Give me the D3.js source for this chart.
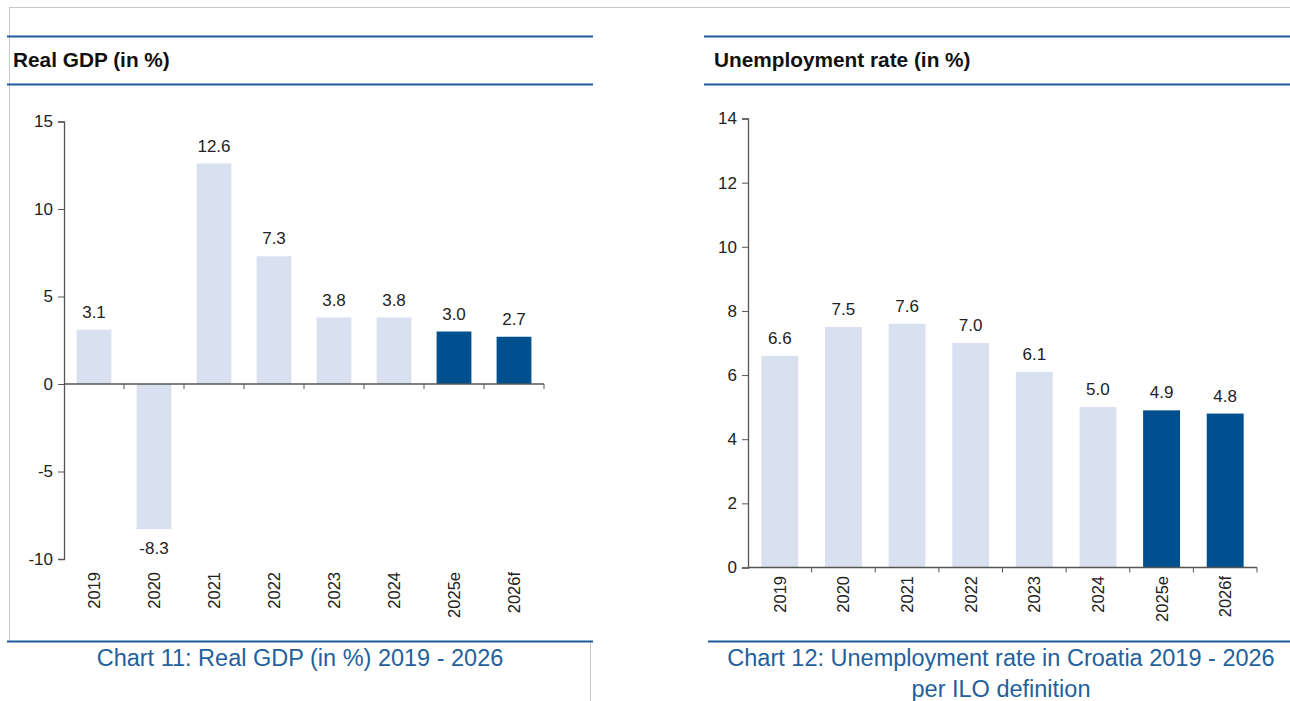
<!DOCTYPE html>
<html>
<head>
<meta charset="utf-8">
<script src="https://cdn.jsdelivr.net/npm/d3@7"></script>
<style>
  html, body { margin: 0; padding: 0; background: #fff; }
  svg { display: block; font-family: "Liberation Sans", Arial, sans-serif; }
</style>
</head>
<body>
<svg id="page" width="1290" height="701"></svg>
<script>
// Years shown on both charts
const years = ["2019", "2020", "2021", "2022", "2023", "2024", "2025e", "2026f"];
// Real GDP growth, %
const gdpValues = [3.1, -8.3, 12.6, 7.3, 3.8, 3.8, 3.0, 2.7];
const gdpTicks = [-10, -5, 0, 5, 10, 15];
// Unemployment rate (ILO), %
const unempValues = [6.6, 7.5, 7.6, 7.0, 6.1, 5.0, 4.9, 4.8];
const unempTicks = [0, 2, 4, 6, 8, 10, 12, 14];
// Estimate / forecast years are drawn in the darker colour
const forecastYears = ["2025e", "2026f"];

const RULE = "#1d5c99";
const CAPTION = "#23609c";
const LIGHT = "#d9e0f0";
const DARK = "#00508f";
const AXIS = "#555";
const TEXT = "#222";
const FONT = "Liberation Sans, Arial, sans-serif";

const svg = d3.select("#page");

// page frame: thin grey rules
svg.append("line").attr("x1", 9).attr("x2", 1290).attr("y1", 7.5).attr("y2", 7.5)
  .attr("stroke", "#c8c8c8").attr("stroke-width", 1);
svg.append("line").attr("x1", 9.5).attr("x2", 9.5).attr("y1", 7).attr("y2", 641)
  .attr("stroke", "#c8c8c8").attr("stroke-width", 1);
svg.append("line").attr("x1", 590.5).attr("x2", 590.5).attr("y1", 641).attr("y2", 701)
  .attr("stroke", "#c8c8c8").attr("stroke-width", 1);

function panel(opts) {
  const g = svg.append("g");
  // header rules and title
  [36.5, 84.5].forEach(y => g.append("line")
    .attr("x1", opts.ruleX0).attr("x2", opts.ruleX1).attr("y1", y).attr("y2", y)
    .attr("stroke", RULE).attr("stroke-width", 2.2));
  g.append("text").attr("x", opts.titleX).attr("y", 67)
    .style("font-size", "20.8px").attr("font-weight", "bold").attr("fill", "#111")
    .text(opts.title);
  // footer rule and caption
  g.append("line")
    .attr("x1", opts.footX0).attr("x2", opts.footX1).attr("y1", 641.5).attr("y2", 641.5)
    .attr("stroke", RULE).attr("stroke-width", 2.2);
  opts.caption.forEach((line, i) => g.append("text")
    .attr("x", opts.captionX).attr("y", 666 + i * 31)
    .attr("text-anchor", "middle").style("font-size", "23.5px").attr("fill", CAPTION)
    .text(line));

  const x = d3.scaleBand().domain(years).range(opts.xRange).paddingInner(0.42).paddingOuter(0.21);
  const y = d3.scaleLinear().domain(opts.yDomain).range(opts.yRange);

  // bars
  g.selectAll("rect.bar").data(opts.values).join("rect")
    .attr("class", "bar")
    .attr("x", (d, i) => x(years[i]))
    .attr("width", x.bandwidth())
    .attr("y", d => y(Math.max(0, d)))
    .attr("height", d => Math.abs(y(d) - y(0)))
    .attr("fill", (d, i) => forecastYears.includes(years[i]) ? DARK : LIGHT);

  // value labels
  g.selectAll("text.val").data(opts.values).join("text")
    .attr("class", "val")
    .attr("x", (d, i) => x(years[i]) + x.bandwidth() / 2)
    .attr("y", d => d >= 0 ? y(d) - 12 : y(d) + 25)
    .attr("text-anchor", "middle").style("font-size", "17px").attr("fill", TEXT)
    .text(d => d.toFixed(1));

  // y axis
  const yAxis = g.append("g").attr("transform", `translate(${opts.xRange[0]},0)`)
    .call(d3.axisLeft(y).tickValues(opts.ticks).tickSize(6).tickPadding(5).tickFormat(d => String(d)));
  yAxis.attr("font-size", null).attr("font-family", null);
  yAxis.select(".domain").attr("stroke", AXIS).attr("stroke-width", 1.3);
  yAxis.selectAll(".tick line").attr("stroke", AXIS);
  yAxis.selectAll(".tick text").style("font-size", "17px").attr("fill", TEXT)
    .style("font-family", FONT);

  // x axis line at zero with boundary ticks
  const y0 = y(0);
  g.append("line").attr("x1", opts.xRange[0]).attr("x2", opts.xRange[1])
    .attr("y1", y0).attr("y2", y0).attr("stroke", AXIS).attr("stroke-width", 1.3);
  const step = x.step();
  const bounds = d3.range(years.length + 1).map(i => opts.xRange[0] + i * step);
  g.selectAll("line.xt").data(bounds.slice(1)).join("line")
    .attr("class", "xt")
    .attr("x1", d => d).attr("x2", d => d).attr("y1", y0).attr("y2", y0 + 5)
    .attr("stroke", AXIS);

  // rotated category labels
  g.selectAll("text.cat").data(years).join("text")
    .attr("class", "cat")
    .attr("transform", d => `translate(${x(d) + x.bandwidth() / 2 + 6},${opts.labelY}) rotate(-90)`)
    .attr("text-anchor", "end").style("font-size", "16.5px").attr("fill", TEXT)
    .text(d => d);
}

panel({
  title: "Real GDP (in %)", titleX: 13,
  ruleX0: 7, ruleX1: 593, footX0: 7, footX1: 593,
  caption: ["Chart 11: Real GDP (in %) 2019 - 2026"], captionX: 300,
  values: gdpValues, ticks: gdpTicks,
  xRange: [64, 544], yDomain: [-10, 15], yRange: [559, 121.5],
  labelY: 572
});

panel({
  title: "Unemployment rate (in %)", titleX: 714,
  ruleX0: 704, ruleX1: 1290, footX0: 708, footX1: 1290,
  caption: ["Chart 12: Unemployment rate in Croatia 2019 - 2026", "per ILO definition"], captionX: 1001,
  values: unempValues, ticks: unempTicks,
  xRange: [748, 1257], yDomain: [0, 14], yRange: [567.5, 118.5],
  labelY: 576
});
</script>
</body>
</html>
